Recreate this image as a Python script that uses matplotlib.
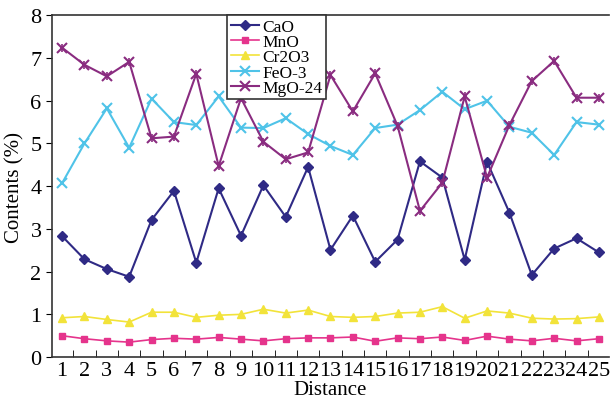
import numpy as np
import matplotlib
matplotlib.use('Agg')
import matplotlib.pyplot as plt

plt.rcParams['font.family'] = ['Liberation Serif', 'DejaVu Serif']

distance = list(range(1, 26))
cao = [2.83, 2.29, 2.06, 1.88, 3.21, 3.89, 2.21, 3.95, 2.84, 4.02, 3.28, 4.45, 2.51,
       3.31, 2.23, 2.75, 4.58, 4.2, 2.28, 4.57, 3.38, 1.92, 2.54, 2.78, 2.45]
mno = [0.5, 0.43, 0.38, 0.35, 0.41, 0.44, 0.42, 0.46, 0.42, 0.38, 0.43, 0.45, 0.45,
       0.47, 0.37, 0.45, 0.43, 0.47, 0.39, 0.49, 0.42, 0.38, 0.44, 0.38, 0.43]
cr2o3 = [0.92, 0.95, 0.88, 0.82, 1.05, 1.05, 0.93, 0.98, 1.0, 1.12, 1.03, 1.1, 0.95,
         0.93, 0.95, 1.03, 1.05, 1.18, 0.91, 1.08, 1.03, 0.91, 0.89, 0.9, 0.94]
feo = [4.07, 5.0, 5.82, 4.9, 6.05, 5.5, 5.43, 6.1, 5.37, 5.36, 5.59, 5.22, 4.94,
       4.73, 5.36, 5.44, 5.78, 6.21, 5.8, 6.0, 5.39, 5.25, 4.73, 5.5, 5.44]
mgo = [7.24, 6.84, 6.57, 6.91, 5.12, 5.16, 6.63, 4.47, 6.06, 5.04, 4.63, 4.79, 6.6,
       5.75, 6.64, 5.41, 3.42, 4.08, 6.1, 4.2, 5.43, 6.46, 6.93, 6.07, 6.07]
yticks = list(range(0, 9))

fig = plt.figure(figsize=(6.12, 4.06), dpi=100)
ax = fig.add_axes([0.085, 0.118, 0.91, 0.842])

ax.plot(distance, cao, '-D', color='#2f2a85', ms=5, lw=1.5, label='CaO')
ax.plot(distance, mno, '-s', color='#e5348c', ms=5, lw=1.2, label='MnO')
ax.plot(distance, cr2o3, '-^', color='#f2e33a', ms=6, lw=1.2, label='Cr2O3')
ax.plot(distance, feo, '-x', color='#4fc3e8', ms=7, mew=1.5, lw=1.5, label='FeO-3')
ax.plot(distance, mgo, '-x', color='#8a2c80', ms=7, mew=1.5, lw=1.5, label='MgO-24')
# star-like look for MgO: add a bar marker over the cross
ax.plot(distance, mgo, '|', color='#8a2c80', ms=6, mew=1.2)

ax.set_xlim(0.55, 25.45)
ax.set_ylim(0, 8)
ax.set_xticks(distance)
ax.set_yticks(yticks)
ax.set_xticks(np.arange(1.5, 25, 1), minor=True)
ax.tick_params(axis='x', which='major', length=0, labelsize=16, pad=3)
ax.tick_params(axis='x', which='minor', direction='in', length=5)
ax.tick_params(axis='y', direction='out', length=4, labelsize=16)
ax.spines['right'].set_visible(False)
for s in ['top', 'left', 'bottom']:
    ax.spines[s].set_linewidth(1.2)
    ax.spines[s].set_color('#333333')

ax.set_xlabel('Distance', fontsize=15, labelpad=0)
ax.set_ylabel('Contents (%)', fontsize=15, labelpad=4)

leg = ax.legend(loc='upper left', bbox_to_anchor=(0.315, 1.0), fontsize=12.5,
                handlelength=1.6, handletextpad=0.2, labelspacing=-0.05,
                borderpad=0.2, borderaxespad=0, fancybox=False, framealpha=1,
                edgecolor='#333333')
leg.get_frame().set_linewidth(1.2)

fig.savefig('out.png', dpi=100)
